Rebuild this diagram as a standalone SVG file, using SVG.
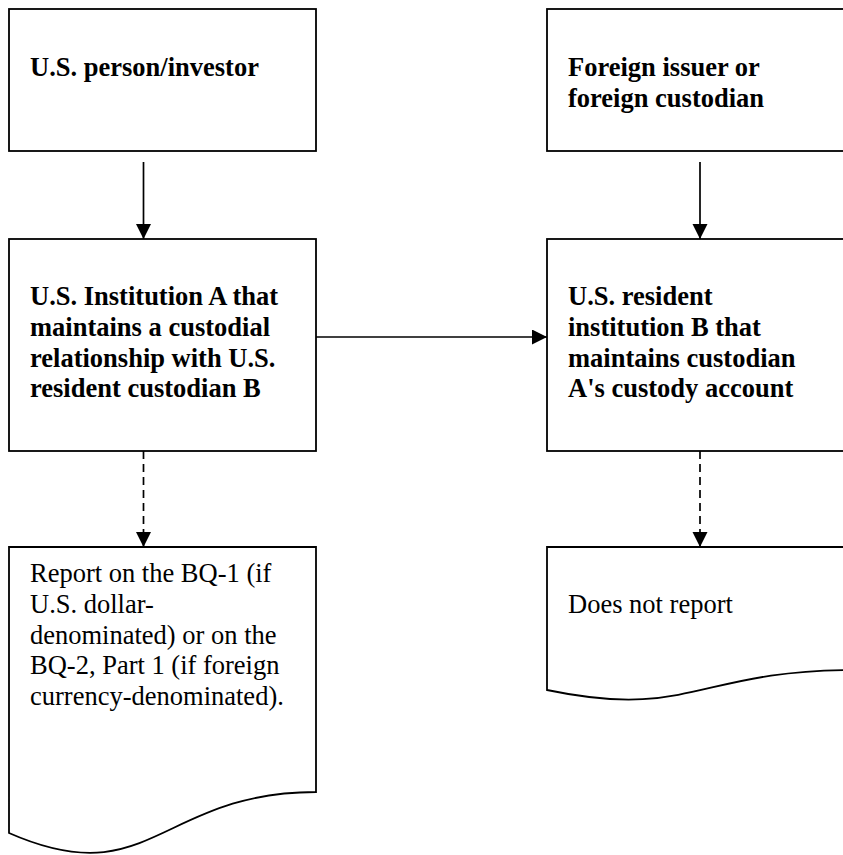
<svg xmlns="http://www.w3.org/2000/svg" width="843" height="855" viewBox="0 0 843 855">
<defs>
<style>
.box{fill:#fff;stroke:#000;stroke-width:1.8}
.b{font-family:"Liberation Serif","Times New Roman",serif;font-size:26.5px;font-weight:bold;fill:#000}
.r{font-family:"Liberation Serif","Times New Roman",serif;font-size:26.5px;fill:#000}
.c{stroke:#000;stroke-width:1.7;fill:none}
.d{stroke-dasharray:8,5}
</style>
<marker id="ah" markerUnits="userSpaceOnUse" markerWidth="16" markerHeight="16" refX="15" refY="7.5" orient="auto">
<path d="M0,0 L15,7.5 L0,15 Z" fill="#000"/>
</marker>
</defs>
<rect width="843" height="855" fill="#fff"/>
<g id="connectors">
<line class="c" x1="143.5" y1="162" x2="143.5" y2="239" marker-end="url(#ah)"/>
<line class="c" x1="700" y1="162" x2="700" y2="239" marker-end="url(#ah)"/>
<line class="c" x1="316" y1="337" x2="547" y2="337" marker-end="url(#ah)"/>
<line class="c d" x1="143.5" y1="451" x2="143.5" y2="547" marker-end="url(#ah)"/>
<line class="c d" x1="700" y1="451" x2="700" y2="547" marker-end="url(#ah)"/>
</g>
<g id="us-person">
<rect class="box" x="9" y="9" width="307" height="142"/>
<text class="b" x="30" y="76">U.S. person/investor</text>
</g>
<g id="foreign-issuer">
<rect class="box" x="547" y="9" width="307" height="142"/>
<text class="b" x="568" y="76">Foreign issuer or</text>
<text class="b" x="568" y="107">foreign custodian</text>
</g>
<g id="institution-a">
<rect class="box" x="9" y="239" width="307" height="212"/>
<text class="b" x="30" y="305">U.S. Institution A that</text>
<text class="b" x="30" y="336">maintains a custodial</text>
<text class="b" x="30" y="367">relationship with U.S.</text>
<text class="b" x="30" y="397">resident custodian B</text>
</g>
<g id="institution-b">
<rect class="box" x="547" y="239" width="307" height="212"/>
<text class="b" x="568" y="305">U.S. resident</text>
<text class="b" x="568" y="336">institution B that</text>
<text class="b" x="568" y="367">maintains custodian</text>
<text class="b" x="568" y="397">A's custody account</text>
</g>
<g id="report-doc">
<path class="box" d="M9,547 H316 V792 C160,792 150,895 9,833 Z"/>
<text class="r" x="30" y="582">Report on the BQ-1 (if</text>
<text class="r" x="30" y="613">U.S. dollar-</text>
<text class="r" x="30" y="644">denominated) or on the</text>
<text class="r" x="30" y="674">BQ-2, Part 1 (if foreign</text>
<text class="r" x="30" y="705">currency-denominated).</text>
</g>
<g id="no-report-doc">
<path class="box" d="M547,547 H854 V670 C698,670 690,720 547,690 Z"/>
<text class="r" x="568" y="613">Does not report</text>
</g>
</svg>
